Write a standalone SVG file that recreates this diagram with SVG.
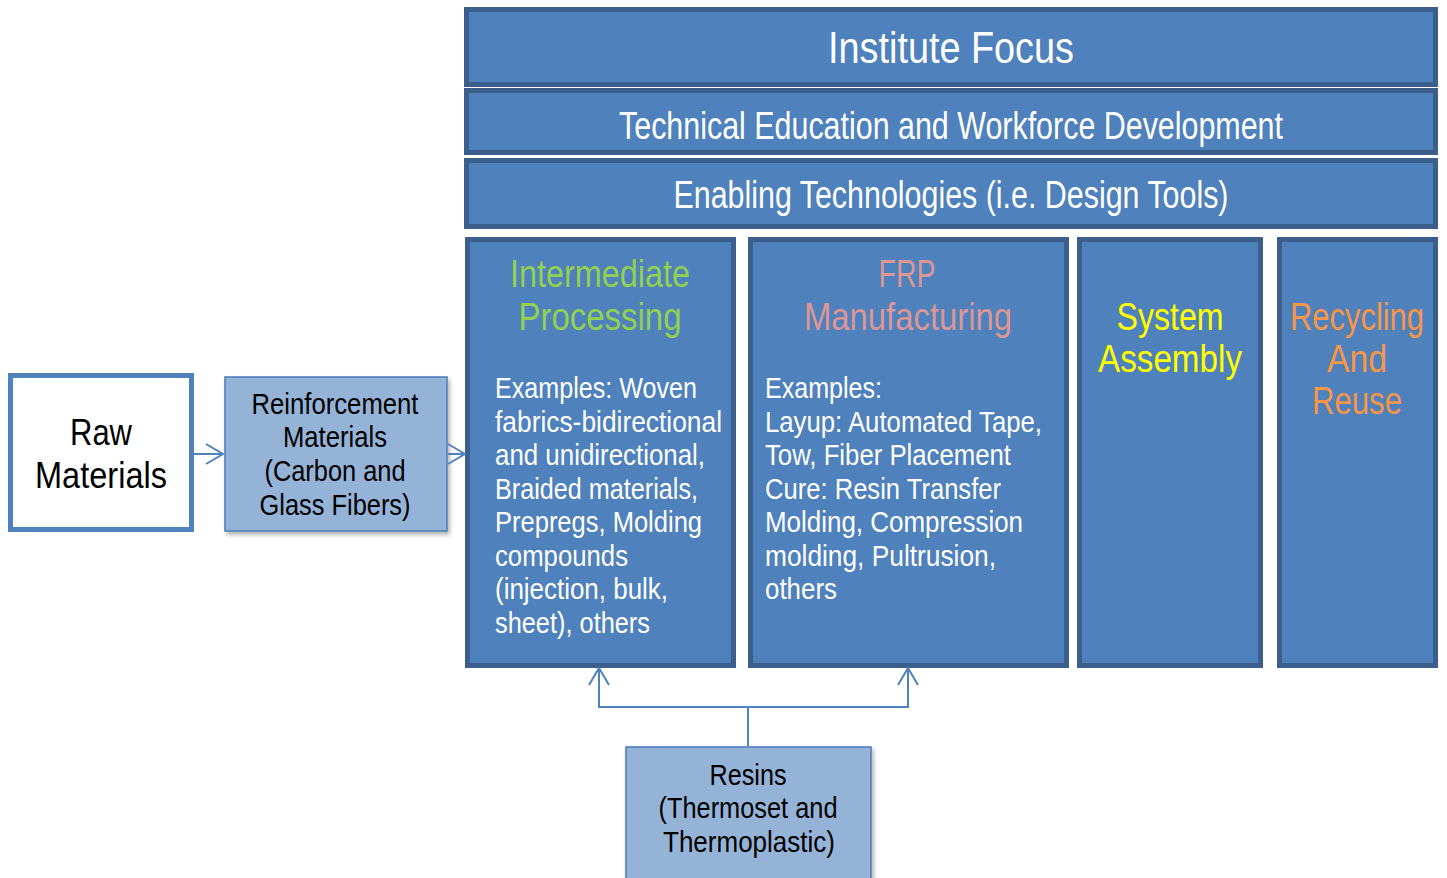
<svg xmlns="http://www.w3.org/2000/svg" width="1447" height="878" viewBox="0 0 1447 878">
  <defs>
    <style>
      .t { font-family: "Liberation Sans", Arial, sans-serif; }
      .blk { fill: #4F81BD; stroke: #3B5E8C; stroke-width: 5; }
      .light { fill: #95B3D7; stroke: #4F81BD; stroke-width: 1.6; }
      .raw { fill: #FFFFFF; stroke: #4F81BD; stroke-width: 5; }
      .wh { fill: #FFFFFF; }
      .bk { fill: #000000; }
      .mid { text-anchor: middle; }
      .body { font-size: 29px; }
      .head { font-size: 38px; }
      .link { fill: none; stroke: #4F81BD; stroke-width: 2; }
    </style>
    <marker id="open" viewBox="0 0 20 22" refX="18" refY="11" markerWidth="20" markerHeight="22" markerUnits="userSpaceOnUse" orient="auto">
      <path d="M1,1 L18,11 L1,21" fill="none" stroke="#4F81BD" stroke-width="2"/>
    </marker>
    <filter id="shadow" x="-10%" y="-10%" width="125%" height="125%">
      <feDropShadow dx="2" dy="3" stdDeviation="2" flood-color="#000000" flood-opacity="0.3"/>
    </filter>
  </defs>

  <!-- Banner rows -->
  <g id="institute-focus">
    <rect class="blk" x="466.5" y="9.5" width="969" height="75"/>
    <text class="t wh mid" x="951" y="63" font-size="44" textLength="246" lengthAdjust="spacingAndGlyphs">Institute Focus</text>
  </g>
  <g id="education">
    <rect class="blk" x="466.5" y="90.5" width="969" height="62"/>
    <text class="t wh mid" x="951" y="139" font-size="38" textLength="664" lengthAdjust="spacingAndGlyphs">Technical Education and Workforce Development</text>
  </g>
  <g id="enabling">
    <rect class="blk" x="466.5" y="160.5" width="969" height="66"/>
    <text class="t wh mid" x="951" y="208" font-size="38" textLength="555" lengthAdjust="spacingAndGlyphs">Enabling Technologies (i.e. Design Tools)</text>
  </g>

  <!-- Focus columns -->
  <g id="intermediate">
    <rect class="blk" x="467.5" y="239.5" width="266" height="426"/>
    <text class="t head mid" x="600" y="287" fill="#92D050" textLength="180" lengthAdjust="spacingAndGlyphs">Intermediate</text>
    <text class="t head mid" x="600" y="330" fill="#92D050" textLength="163" lengthAdjust="spacingAndGlyphs">Processing</text>
    <text class="t wh body" x="495" y="398" textLength="202" lengthAdjust="spacingAndGlyphs">Examples: Woven</text>
    <text class="t wh body" x="495" y="432" textLength="227" lengthAdjust="spacingAndGlyphs">fabrics-bidirectional</text>
    <text class="t wh body" x="495" y="465" textLength="210" lengthAdjust="spacingAndGlyphs">and unidirectional,</text>
    <text class="t wh body" x="495" y="499" textLength="203" lengthAdjust="spacingAndGlyphs">Braided materials,</text>
    <text class="t wh body" x="495" y="532" textLength="207" lengthAdjust="spacingAndGlyphs">Prepregs, Molding</text>
    <text class="t wh body" x="495" y="566" textLength="133" lengthAdjust="spacingAndGlyphs">compounds</text>
    <text class="t wh body" x="495" y="599" textLength="173" lengthAdjust="spacingAndGlyphs">(injection, bulk,</text>
    <text class="t wh body" x="495" y="633" textLength="155" lengthAdjust="spacingAndGlyphs">sheet), others</text>
  </g>
  <g id="frp">
    <rect class="blk" x="750.5" y="239.5" width="316" height="426"/>
    <text class="t head mid" x="907" y="287" fill="#DC9694" textLength="57" lengthAdjust="spacingAndGlyphs">FRP</text>
    <text class="t head mid" x="908" y="330" fill="#DC9694" textLength="208" lengthAdjust="spacingAndGlyphs">Manufacturing</text>
    <text class="t wh body" x="765" y="398" textLength="117" lengthAdjust="spacingAndGlyphs">Examples:</text>
    <text class="t wh body" x="765" y="432" textLength="277" lengthAdjust="spacingAndGlyphs">Layup: Automated Tape,</text>
    <text class="t wh body" x="765" y="465" textLength="246" lengthAdjust="spacingAndGlyphs">Tow, Fiber Placement</text>
    <text class="t wh body" x="765" y="499" textLength="236" lengthAdjust="spacingAndGlyphs">Cure: Resin Transfer</text>
    <text class="t wh body" x="765" y="532" textLength="258" lengthAdjust="spacingAndGlyphs">Molding, Compression</text>
    <text class="t wh body" x="765" y="566" textLength="231" lengthAdjust="spacingAndGlyphs">molding, Pultrusion,</text>
    <text class="t wh body" x="765" y="599" textLength="72" lengthAdjust="spacingAndGlyphs">others</text>
  </g>
  <g id="system-assembly">
    <rect class="blk" x="1079.5" y="239.5" width="181" height="426"/>
    <text class="t head mid" x="1170" y="330" fill="#FFFF00" textLength="107" lengthAdjust="spacingAndGlyphs">System</text>
    <text class="t head mid" x="1170" y="372" fill="#FFFF00" textLength="144" lengthAdjust="spacingAndGlyphs">Assembly</text>
  </g>
  <g id="recycling">
    <rect class="blk" x="1279.5" y="239.5" width="156" height="426"/>
    <text class="t head mid" x="1357" y="330" fill="#F79646" textLength="134" lengthAdjust="spacingAndGlyphs">Recycling</text>
    <text class="t head mid" x="1357" y="372" fill="#F79646" textLength="60" lengthAdjust="spacingAndGlyphs">And</text>
    <text class="t head mid" x="1357" y="414" fill="#F79646" textLength="90" lengthAdjust="spacingAndGlyphs">Reuse</text>
  </g>

  <!-- Inputs -->
  <g id="raw-materials">
    <rect class="raw" x="10.5" y="375.5" width="181" height="154"/>
    <text class="t bk mid" x="101" y="445" font-size="37" textLength="62" lengthAdjust="spacingAndGlyphs">Raw</text>
    <text class="t bk mid" x="101" y="488" font-size="37" textLength="132" lengthAdjust="spacingAndGlyphs">Materials</text>
  </g>
  <g id="reinforcement">
    <rect class="light" x="225" y="377" width="222" height="154" filter="url(#shadow)"/>
    <text class="t bk mid body" x="335" y="414" textLength="167" lengthAdjust="spacingAndGlyphs">Reinforcement</text>
    <text class="t bk mid body" x="335" y="447" textLength="104" lengthAdjust="spacingAndGlyphs">Materials</text>
    <text class="t bk mid body" x="335" y="481" textLength="141" lengthAdjust="spacingAndGlyphs">(Carbon and</text>
    <text class="t bk mid body" x="335" y="515" textLength="151" lengthAdjust="spacingAndGlyphs">Glass Fibers)</text>
  </g>
  <g id="resins">
    <rect class="light" x="626" y="747" width="245" height="140" filter="url(#shadow)"/>
    <text class="t bk mid body" x="748" y="785" textLength="77" lengthAdjust="spacingAndGlyphs">Resins</text>
    <text class="t bk mid body" x="748" y="818" textLength="179" lengthAdjust="spacingAndGlyphs">(Thermoset and</text>
    <text class="t bk mid body" x="749" y="852" textLength="172" lengthAdjust="spacingAndGlyphs">Thermoplastic)</text>
  </g>

  <!-- Connectors -->
  <g id="connectors">
    <line class="link" x1="194" y1="454" x2="223" y2="454" marker-end="url(#open)"/>
    <line class="link" x1="448" y1="454" x2="465" y2="454" marker-end="url(#open)"/>
    <path class="link" d="M748,746 V707 H599 V668" marker-end="url(#open)"/>
    <path class="link" d="M748,707 H908 V668" marker-end="url(#open)"/>
  </g>
</svg>
